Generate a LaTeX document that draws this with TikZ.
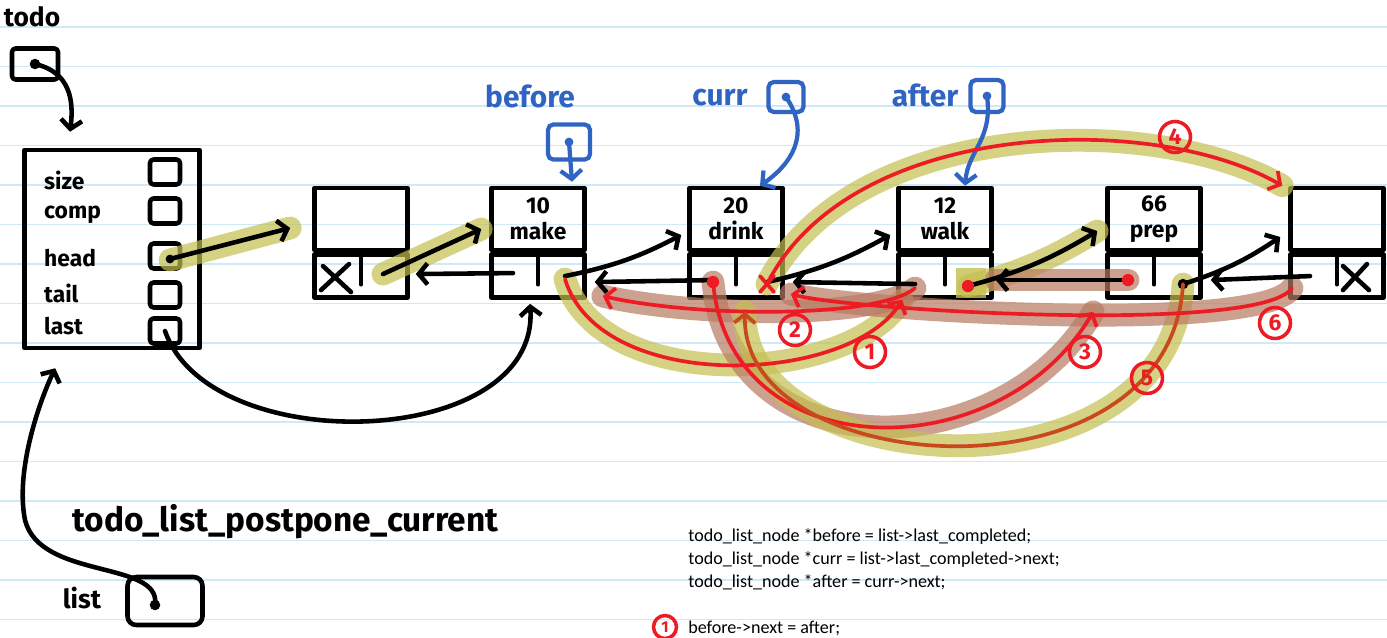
\documentclass[tikz,border=0pt]{standalone}
\usepackage{fontspec}
\setmainfont{Carlito}
\newfontfamily\handfont{Fira Sans}
\usetikzlibrary{arrows.meta,calc,positioning}
\definecolor{penred}{HTML}{ED1C24}
\definecolor{penblue}{HTML}{2F64C2}
\definecolor{hiolive}{HTML}{C4C050}
\definecolor{hibrown}{HTML}{B97A62}
\definecolor{ruleblue}{HTML}{CFE9F7}
\definecolor{redfive}{HTML}{C9481C}

\tikzset{
  pen/.style={line width=2.6pt, line cap=round, line join=round},
  rpen/.style={draw=penred, line width=2.1pt, line cap=round},
  bpen/.style={draw=penblue, line width=2.4pt, line cap=round},
  hand/.style={font=\handfont\bfseries\fontsize{13}{15}\selectfont},
  bluehand/.style={font=\handfont\bfseries\fontsize{17}{19}\selectfont, text=penblue},
  datcell/.style={draw, pen, minimum width=1.86cm, minimum height=1.24cm, inner sep=0pt, align=center, hand},
  ptrcell/.style={draw, pen, minimum width=1.86cm, minimum height=0.86cm, inner sep=0pt},
  fcell/.style={draw, pen, rounded corners=2pt, minimum width=0.6cm, minimum height=0.5cm, inner sep=0pt},
  bptr/.style={draw=penblue, line width=2.4pt, rounded corners=3pt, inner sep=0pt},
  hiO/.style={draw=hiolive, line width=13pt, opacity=.7, line cap=round},
  hiB/.style={draw=hibrown, line width=13pt, opacity=.7, line cap=round},
  badge/.style={circle, draw=penred, line width=2pt, text=penred, font=\handfont\bfseries\fontsize{13}{13}\selectfont, inner sep=0pt, minimum size=0.62cm}
}

\begin{document}
\begin{tikzpicture}[x=0.02cm,y=-0.02cm,>={Straight Barb[length=5pt,width=12pt]}]
  \useasboundingbox (0,0) rectangle (1387,637);
  \fill[white] (0,0) rectangle (1387,637);
  % notebook rules
  \foreach \k in {0,...,15}
    \draw[ruleblue, line width=0.7pt] (0,{27+39.5*\k}) -- (1387,{27+39.5*\k});

  % the list struct
  \node[hand, font=\handfont\bfseries\fontsize{15}{17}\selectfont] (todolbl) at (32,17) {todo};
  \node[fcell, minimum width=0.92cm, minimum height=0.62cm] (todo) at (35,64) {};
  \node[draw, pen, minimum width=3.5cm, minimum height=3.96cm] (list) at (112,249) {};
  \foreach \f/\y/\cy in {size/180/172, comp/215/211, head/258/256, tail/293/295, last/326/331}{
    \node[hand, anchor=west] (lbl-\f) at (38,\y) {\f};
    \node[fcell] (c-\f) at (165,\cy) {};
  }
  \fill (todo.center) circle (3pt);
  \draw[pen,->] (todo.center) .. controls (70,72) and (74,100) .. ($(list.north)+(-42,-16)$);

  % list nodes
  \foreach \nm/\cx/\txt in {sentA/361/, make/538/10\\make, drink/736/20\\drink, walk/945/12\\walk, prep/1154/66\\prep, sentB/1337/}{
    \node[datcell] (\nm) at (\cx,219) {\txt};
    \node[ptrcell, below=0pt of \nm] (\nm-p) {};
    \draw[pen] (\nm-p.north) -- ++(0,32);
  }
  \draw[pen] ($(sentA-p.center)+(-38,-10)$) -- ($(sentA-p.center)+(-10,16)$);
  \draw[pen] ($(sentA-p.center)+(-40,14)$) -- ($(sentA-p.center)+(-12,-12)$);
  \draw[pen] ($(sentB-p.center)+(6,-10)$) -- ($(sentB-p.center)+(32,14)$);
  \draw[pen] ($(sentB-p.center)+(6,14)$) -- ($(sentB-p.center)+(30,-12)$);

  % highlighter
  \draw[hiO] ($(c-head.center)+(5,4)$) -- ($(sentA.west)+(-22,9)$);
  \draw[hiO] ($(sentA-p.center)+(22,-2)$) -- ($(make.west)+(-8,10)$);
  \draw[hiO] ($(walk-p.center)+(23,10)$) to[bend right=8] ($(prep.west)+(-8,12)$);
  \draw[hiB] ($(prep-p.center)+(-26,4)$) -- ($(walk-p.east)+(2,4)$);
  \fill[hiolive, opacity=.8] (956,268) rectangle (986,298);
  \draw[hiO] ($(make-p.center)+(27,3)$) .. controls (600,395) and (850,385) .. ($(walk-p.south west)+(6,0)$);
  \draw[hiB] ($(walk-p.center)+(-30,12)$) .. controls (880,318) and (700,318) .. ($(make-p.east)+(16,20)$);
  \draw[hiB] ($(drink-p.center)+(-23,6)$) .. controls (730,470) and (1000,470) .. ($(prep-p.south west)+(-12,12)$);
  \draw[hiO] ($(drink-p.center)+(31,8)$) .. controls (850,120) and (1150,110) .. ($(sentB.north west)+(-6,0)$);
  \draw[hiO] ($(prep-p.center)+(29,8)$) .. controls (1170,510) and (740,480) .. ($(drink-p.south)+(9,12)$);
  \draw[hiB] ($(sentB-p.center)+(-45,12)$) .. controls (1260,335) and (850,310) .. ($(drink-p.east)+(6,18)$);

  % black pointers
  \fill ($(c-head.center)+(5,3)$) circle (2.5pt);
  \draw[pen,->] ($(c-head.center)+(5,3)$) -- ($(sentA.west)+(-22,9)$);
  \draw[pen,->] (c-last.center) .. controls (210,460) and (540,450) .. ($(make-p.south)+(-8,4)$);
  \draw[pen,->] ($(sentA-p.center)+(22,-2)$) -- ($(make.west)+(-8,10)$);
  \draw[pen,->] ($(make-p.center)+(-25,-3)$) -- ($(sentA-p.east)+(6,-2)$);
  \draw[pen,->] ($(make-p.center)+(27,0)$) to[bend right=8] ($(drink.west)+(-6,16)$);
  \draw[pen,->] ($(drink-p.center)+(-23,4)$) -- ($(make-p.east)+(8,6)$);
  \draw[pen,->] ($(drink-p.center)+(31,6)$) to[bend right=8] ($(walk.west)+(-6,16)$);
  \draw[pen,->] ($(walk-p.center)+(-30,8)$) -- ($(drink-p.east)+(8,6)$);
  \draw[pen,->] ($(walk-p.center)+(23,10)$) to[bend right=8] ($(prep.west)+(-8,12)$);
  \draw[pen,->] ($(prep-p.center)+(-26,4)$) -- ($(walk-p.east)+(2,4)$);
  \draw[pen,->] ($(prep-p.center)+(29,8)$) to[bend right=8] ($(sentB.west)+(-8,18)$);
  \draw[pen,->] ($(sentB-p.center)+(-27,0)$) -- ($(prep-p.east)+(8,4)$);
  \fill ($(prep-p.center)+(29,8)$) circle (3pt);

  % list param
  \node[hand, font=\handfont\bfseries\fontsize{19}{22}\selectfont, anchor=west] (fname) at (66,522) {todo\_list\_postpone\_current};
  \node[hand, font=\handfont\bfseries\fontsize{15}{17}\selectfont] (listlbl) at (82,598) {list};
  \node[fcell, minimum width=1.5cm, minimum height=0.96cm, rounded corners=5pt] (listp) at (165,601) {};
  \fill ($(listp.center)+(-10,4)$) circle (3pt);
  \draw[pen,->] ($(listp.center)+(-10,4)$) .. controls (162,560) and (40,580) .. (25,520)
    .. controls (15,470) and (40,400) .. ($(list.south west)+(33,18)$);

  % blue pointers
  \node[bluehand] (beforelbl) at (530,96) {before};
  \node[bptr, minimum width=0.84cm, minimum height=0.7cm] (beforeb) at (569,142) {};
  \fill[penblue] (beforeb.center) circle (2.5pt);
  \draw[bpen,->] (beforeb.center) -- ($(make.north)+(34,-4)$);
  \node[bluehand] (currlbl) at (720,98) {curr};
  \node[bptr, minimum width=0.7cm, minimum height=0.6cm] (currb) at (786,97) {};
  \fill[penblue] (currb.center) circle (2.5pt);
  \draw[bpen,->] (currb.center) .. controls (812,135) and (790,165) .. ($(drink.north)+(24,0)$);
  \node[bluehand] (afterlbl) at (925,95) {after};
  \node[bptr, minimum width=0.66cm, minimum height=0.64cm] (afterb) at (987,96) {};
  \fill[penblue] (afterb.center) circle (2.5pt);
  \draw[bpen,->] (afterb.center) .. controls (993,140) and (968,150) .. ($(walk.north)+(20,0)$);

  % red steps
  \draw[rpen,->] ($(make-p.center)+(27,3)$) .. controls (600,395) and (850,385) .. ($(walk-p.south west)+(6,0)$);
  \draw[rpen,->] ($(walk-p.center)+(-30,12)$) .. controls (880,318) and (700,318) .. ($(make-p.east)+(16,20)$);
  \draw[rpen,->] ($(drink-p.center)+(-23,6)$) .. controls (730,470) and (1000,470) .. ($(prep-p.south west)+(-12,12)$);
  \draw[rpen,->] ($(drink-p.center)+(31,8)$) .. controls (850,120) and (1150,110) .. ($(sentB.north west)+(-6,0)$);
  \draw[rpen,draw=redfive,->] ($(prep-p.center)+(29,8)$) .. controls (1170,510) and (740,480) .. ($(drink-p.south)+(9,12)$);
  \draw[rpen,->] ($(sentB-p.center)+(-45,12)$) .. controls (1260,335) and (850,310) .. ($(drink-p.east)+(6,18)$);
  \fill[penred] ($(drink-p.center)+(-23,6)$) circle (3.5pt);
  \fill[penred] ($(walk-p.center)+(23,10)$) circle (3.5pt);
  \fill[penred] ($(prep-p.center)+(-26,4)$) circle (3.5pt);
  \draw[rpen] ($(drink-p.center)+(24,0)$) -- ($(drink-p.center)+(38,16)$);
  \draw[rpen] ($(drink-p.center)+(24,16)$) -- ($(drink-p.center)+(38,0)$);
  \node[badge] (b1) at (870,352) {1};
  \node[badge] (b2) at (795,330) {2};
  \node[badge] (b3) at (1085,352) {3};
  \node[badge] (b4) at (1175,137) {4};
  \node[badge] (b5) at (1147,378) {5};
  \node[badge] (b6) at (1275,323) {6};

  % code
  \node[anchor=west, align=left, font=\fontsize{10.3}{13}\selectfont, inner sep=0pt] (code) at (688,559)
    {todo\_list\_node *before = list->last\_completed;\\
     todo\_list\_node *curr = list->last\_completed->next;\\
     todo\_list\_node *after = curr->next;};
  \node[anchor=west, font=\fontsize{10.3}{13}\selectfont, inner sep=0pt] (step1) at (688,628) {before->next = after;};
  \node[badge, minimum size=0.46cm, font=\handfont\bfseries\small] (b0) at (665,627) {1};
\end{tikzpicture}
\end{document}
